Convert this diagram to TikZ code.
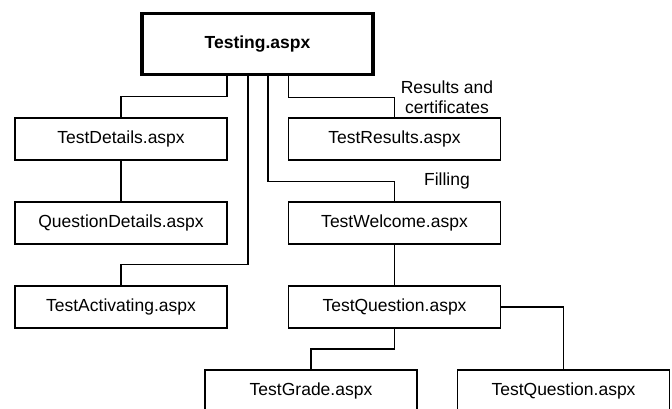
\documentclass[tikz,border=0pt]{standalone}
\usepackage{fontspec}
\setmainfont{Liberation Sans}
\begin{document}
\begin{tikzpicture}[x=1pt,y=-1pt,
  page/.style={draw, rectangle, line width=1.1pt, minimum width=212pt, minimum height=42pt,
    inner sep=0pt, outer sep=0pt, font=\fontsize{17.5}{20.5}\selectfont},
  mainpage/.style={page, line width=3.2pt, minimum width=231pt, minimum height=61pt,
    font=\fontsize{17.5}{20.5}\selectfont\bfseries},
  lbl/.style={inner sep=0pt, align=center, font=\fontsize{17.5}{20.5}\selectfont},
  link/.style={line width=1.1pt}]
\useasboundingbox (0,0) rectangle (672,408);
\clip (0,0) rectangle (672,408);
\node[mainpage] (testing) at (257.5,44) {Testing.aspx};
\node[page] (details) at (121,139) {TestDetails.aspx};
\node[page] (qdetails) at (121,223) {QuestionDetails.aspx};
\node[page] (activating) at (121,307) {TestActivating.aspx};
\node[page] (results) at (394.5,139) {TestResults.aspx};
\node[page] (welcome) at (394.5,223) {TestWelcome.aspx};
\node[page] (question) at (394.5,307) {TestQuestion.aspx};
\node[page] (grade) at (311,391) {TestGrade.aspx};
\node[page] (question2) at (563.5,391) {TestQuestion.aspx};
\node[lbl] (reslbl) at (447,97) {Results and\\certificates};
\node[lbl] (filllbl) at (447,181) {Filling};
\draw[link] (testing.south -| details.east) -- ++(0,22) -| (details.north);
\draw[link] ([xshift=-9.5pt]testing.south) -- ++(0,190) -| (activating.north);
\draw[link] ([xshift=10.5pt]testing.south) -- ++(0,107) -| (welcome.north);
\draw[link] (testing.south -| results.west) -- ++(0,23) -| (results.north);
\draw[link] (details.south) -- (qdetails.north);
\draw[link] (welcome.south) -- (question.north);
\draw[link] (question.east) -| (question2.north);
\draw[link] (question.south) -- ++(0,21) -| (grade.north);
\end{tikzpicture}
\end{document}
